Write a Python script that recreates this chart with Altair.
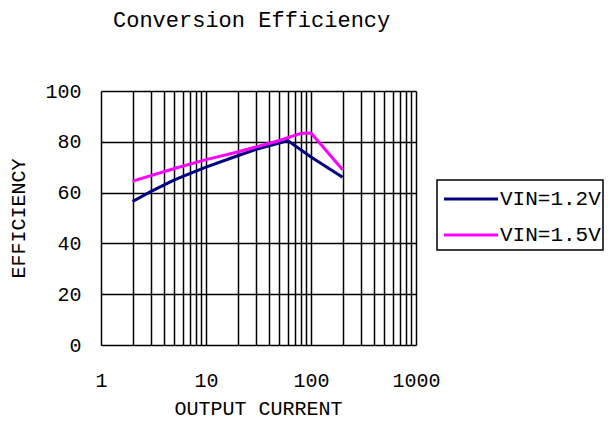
import altair as alt
import pandas as pd

# Data
current_12 = [2, 3, 5, 7, 10, 20, 30, 50, 60, 100, 200]
eff_12 = [56.5, 60.5, 65, 67.5, 70, 74.5, 77, 79.5, 80.5, 74, 66]
current_15 = [2, 5, 10, 20, 50, 80, 100, 200]
eff_15 = [64.5, 69.5, 73, 76, 80.5, 83.3, 83.5, 69]
series = ["VIN=1.2V", "VIN=1.5V"]
colors = ["#000080", "#FF00FF"]
x_grid = [m * 10 ** e for e in range(3) for m in range(1, 10)] + [1000]
x_labels = [1, 10, 100, 1000]
y_ticks = [0, 20, 40, 60, 80, 100]

df = pd.concat([
    pd.DataFrame({"current": current_12, "eff": eff_12, "series": series[0]}),
    pd.DataFrame({"current": current_15, "eff": eff_15, "series": series[1]}),
])
legend_df = pd.DataFrame({"series": series})
box_df = pd.DataFrame({"series": series[:1]})

FONT = "Liberation Mono"
label_cond = " || ".join(f"datum.value == {v}" for v in x_labels)
color_scale = alt.Scale(domain=series, range=colors)

lines = alt.Chart(df).mark_line(strokeWidth=3).encode(
    x=alt.X("current:Q",
            scale=alt.Scale(type="log", domain=[1, 1000], nice=False),
            axis=alt.Axis(values=x_grid, title="OUTPUT CURRENT",
                          labelExpr=f"({label_cond}) ? datum.value : ''",
                          grid=True, gridColor="black", gridWidth=1.5, gridOpacity=1,
                          ticks=False, domain=False, labelPadding=25,
                          labelFont=FONT, labelFontSize=20, labelColor="black",
                          labelFlush=False, labelOverlap=False,
                          titleFont=FONT, titleFontSize=20, titleFontWeight="normal",
                          titleColor="black", titleX=157, titleY=63,
                          titleBaseline="middle")),
    y=alt.Y("eff:Q",
            scale=alt.Scale(domain=[0, 100], nice=False),
            axis=alt.Axis(values=y_ticks, title="EFFICIENCY",
                          grid=True, gridColor="black", gridWidth=1.5, gridOpacity=1,
                          ticks=False, domain=False, labelPadding=20,
                          labelFont=FONT, labelFontSize=20, labelColor="black",
                          titleFont=FONT, titleFontSize=20, titleFontWeight="normal",
                          titleColor="black", titleX=-83, titleY=127,
                          titleAngle=270, titleBaseline="middle")),
    color=alt.Color("series:N", scale=color_scale, legend=None),
)

legend_y = alt.Y("series:N",
                 scale=alt.Scale(type="point", domain=series, range=[108, 144], padding=0),
                 axis=None)

legend_box = alt.Chart(box_df).mark_rect(
    fill="white", stroke="black", strokeWidth=1.5
).encode(
    x=alt.value(336), x2=alt.value(502), y=alt.value(89), y2=alt.value(159)
)

legend_rules = alt.Chart(legend_df).mark_rule(strokeWidth=3).encode(
    x=alt.value(343), x2=alt.value(397), y=legend_y,
    color=alt.Color("series:N", scale=color_scale, legend=None),
)

legend_text = alt.Chart(legend_df).mark_text(
    align="left", baseline="middle", font=FONT, fontSize=21, color="black"
).encode(
    x=alt.value(399), y=legend_y, text="series:N"
)

chart = alt.layer(lines, legend_box, legend_rules, legend_text).resolve_scale(
    y="independent"
).properties(
    width=315,
    height=254,
    title=alt.TitleParams("Conversion Efficiency", anchor="start", frame="group",
                          dx=12, offset=39, baseline="middle",
                          font=FONT, fontSize=22, fontWeight="normal", color="black"),
    autosize=alt.AutoSizeParams(type="none"),
    padding={"left": 93, "top": 83, "right": 188, "bottom": 77},
).configure_view(
    stroke="black", strokeWidth=1.5
).configure(background="white")

chart.save("out.html", embed_options={"renderer": "svg", "actions": False})
